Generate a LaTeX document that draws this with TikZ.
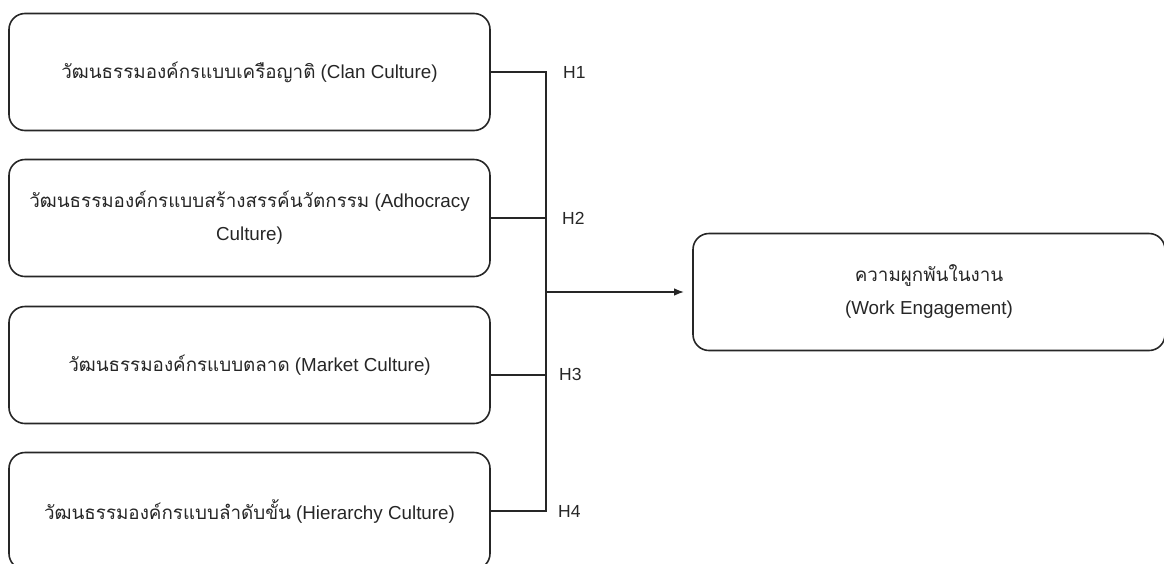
\documentclass[tikz,border=0pt]{standalone}
\usepackage{fontspec}
\setmainfont{Liberation Sans}
\newfontfamily\thaifont[Script=Thai]{Loma}
\usepackage{tikz}
\usetikzlibrary{
	calc,               %计算
	positioning,        %定位
	arrows.meta         %箭头
}
\tikzstyle{culture}=[rectangle,
draw=black!85,
text=black!85,
line width=1.6pt,
rounded corners=16pt,
minimum width=481pt,
minimum height=117pt,
inner sep=0pt,
align=center,
font=\fontsize{18.8}{33}\selectfont]
\tikzset{
	every picture/.style={
		>=latex
	},
	engage/.style={culture, minimum width=472pt},
	hyp/.style={anchor=west, inner sep=0pt, text=black!85, font=\fontsize{17.5}{20}\selectfont},
	link/.style={draw=black!85, line width=1.6pt}
}

\begin{document}
\begin{tikzpicture}[x=1pt,y=-1pt]
\useasboundingbox (0,0) rectangle (1164,563);
% ตัวแปรต้น
\node[culture] (clan) at (249.5,72) {{\thaifont วัฒนธรรมองค์กรแบบเครือญาติ} (Clan Culture)};
\node[culture] (adhoc) at (249.5,218) {{\thaifont วัฒนธรรมองค์กรแบบสร้างสรรค์นวัตกรรม} (Adhocracy\\Culture)};
\node[culture] (market) at (249.5,365) {{\thaifont วัฒนธรรมองค์กรแบบตลาด} (Market Culture)};
\node[culture] (hier) at (249.5,511) {{\thaifont วัฒนธรรมองค์กรแบบลำดับขั้น} (Hierarchy Culture)};
% ตัวแปรตาม
\node[engage] (work) at (929,292) {{\thaifont ความผูกพันในงาน}\\(Work Engagement)};
\coordinate (hub) at (546,292);
% เส้นเชื่อม
\draw[link] (clan.east) -- (clan.east -| hub) -- (hier.east -| hub) -- (hier.east);
\draw[link] (adhoc.east) -- (adhoc.east -| hub);
\draw[link] ([yshift=-10pt]market.east) -- ([yshift=-10pt]market.east -| hub);
\draw[link,-{Latex[length=10pt,width=7.5pt]},shorten >=8pt] (hub) -- (work.west);
% สมมติฐาน
\node[hyp] (h1) at (563,72) {H1};
\node[hyp] (h2) at (562,218) {H2};
\node[hyp] (h3) at (559,374) {H3};
\node[hyp] (h4) at (558,511) {H4};
\end{tikzpicture}
\end{document}
